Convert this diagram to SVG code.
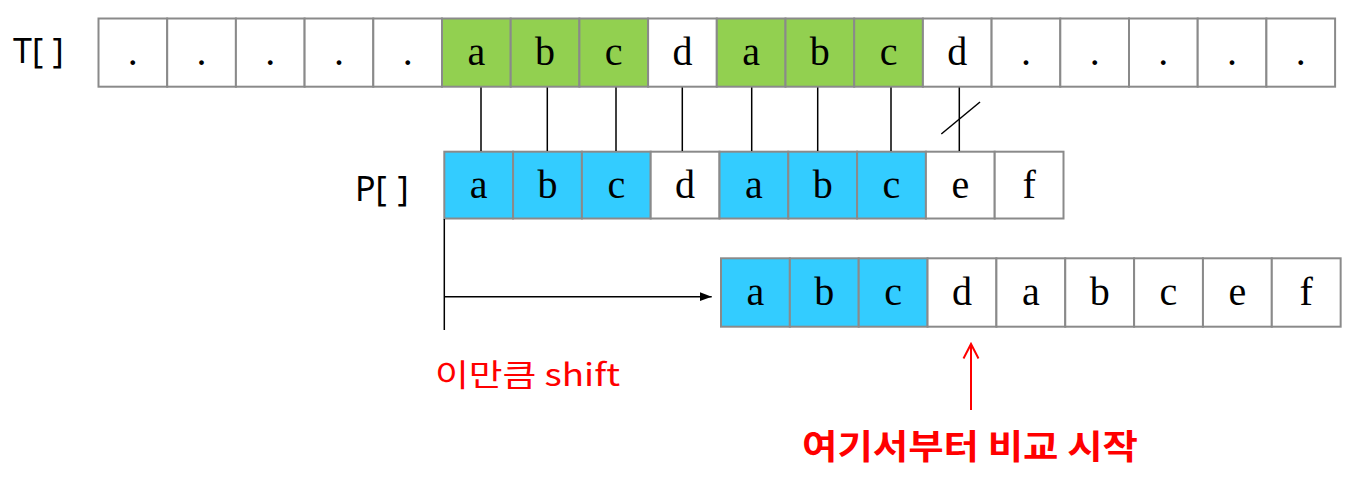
<svg xmlns="http://www.w3.org/2000/svg" width="1366" height="486" viewBox="0 0 1366 486">
<style>
.cell{stroke:#8a8a8a;stroke-width:2;fill:#fff}
.g{fill:#92D050}
.b{fill:#33CCFF}
.ch{font-family:"Liberation Serif","Times New Roman",serif;font-size:40px;fill:#000;text-anchor:middle}
.lbl{font-family:"Noto Sans","Open Sans",sans-serif;font-size:34px;fill:#000}
.con{stroke:#000;stroke-width:1.5;fill:none}
.red{font-family:"Noto Sans CJK KR","Noto Sans",sans-serif;fill:#ff0000}
</style>
<defs>
<marker id="ah" viewBox="0 0 12 10" refX="12" refY="5" markerWidth="12" markerHeight="10" markerUnits="userSpaceOnUse" orient="auto">
<path d="M0,0.5 L12,5 L0,9.5 Z" fill="#000"/>
</marker>
</defs>
<rect width="1366" height="486" fill="#fff"/>
<text id="labelT" class="lbl" x="13" y="63">T[<tspan x="52.5">]</tspan></text>
<text id="labelP" class="lbl" x="355" y="201">P[<tspan x="397.5">]</tspan></text>
<g id="T">
<g id="t0"><rect class="cell" x="98.5" y="18.5" width="68.7" height="68.2"/><text class="ch" x="132.85" y="65">.</text></g>
<g id="t1"><rect class="cell" x="167.2" y="18.5" width="68.7" height="68.2"/><text class="ch" x="201.55" y="65">.</text></g>
<g id="t2"><rect class="cell" x="235.9" y="18.5" width="68.7" height="68.2"/><text class="ch" x="270.25" y="65">.</text></g>
<g id="t3"><rect class="cell" x="304.6" y="18.5" width="68.7" height="68.2"/><text class="ch" x="338.95" y="65">.</text></g>
<g id="t4"><rect class="cell" x="373.3" y="18.5" width="68.7" height="68.2"/><text class="ch" x="407.65" y="65">.</text></g>
<g id="t5"><rect class="cell g" x="442" y="18.5" width="68.7" height="68.2"/><text class="ch" x="476.35" y="65">a</text></g>
<g id="t6"><rect class="cell g" x="510.7" y="18.5" width="68.7" height="68.2"/><text class="ch" x="545.05" y="65">b</text></g>
<g id="t7"><rect class="cell g" x="579.4" y="18.5" width="68.7" height="68.2"/><text class="ch" x="613.75" y="65">c</text></g>
<g id="t8"><rect class="cell" x="648.1" y="18.5" width="68.7" height="68.2"/><text class="ch" x="682.45" y="65">d</text></g>
<g id="t9"><rect class="cell g" x="716.8" y="18.5" width="68.7" height="68.2"/><text class="ch" x="751.15" y="65">a</text></g>
<g id="t10"><rect class="cell g" x="785.5" y="18.5" width="68.7" height="68.2"/><text class="ch" x="819.85" y="65">b</text></g>
<g id="t11"><rect class="cell g" x="854.2" y="18.5" width="68.7" height="68.2"/><text class="ch" x="888.55" y="65">c</text></g>
<g id="t12"><rect class="cell" x="922.9" y="18.5" width="68.7" height="68.2"/><text class="ch" x="957.25" y="65">d</text></g>
<g id="t13"><rect class="cell" x="991.6" y="18.5" width="68.7" height="68.2"/><text class="ch" x="1025.95" y="65">.</text></g>
<g id="t14"><rect class="cell" x="1060.3" y="18.5" width="68.7" height="68.2"/><text class="ch" x="1094.65" y="65">.</text></g>
<g id="t15"><rect class="cell" x="1129" y="18.5" width="68.7" height="68.2"/><text class="ch" x="1163.35" y="65">.</text></g>
<g id="t16"><rect class="cell" x="1197.7" y="18.5" width="68.7" height="68.2"/><text class="ch" x="1232.05" y="65">.</text></g>
<g id="t17"><rect class="cell" x="1266.4" y="18.5" width="68.7" height="68.2"/><text class="ch" x="1300.75" y="65">.</text></g>
</g>
<g id="P">
<g id="p0"><rect class="cell b" x="444.3" y="151.7" width="68.8" height="66.8"/><text class="ch" x="478.7" y="197.5">a</text></g>
<g id="p1"><rect class="cell b" x="513.1" y="151.7" width="68.8" height="66.8"/><text class="ch" x="547.5" y="197.5">b</text></g>
<g id="p2"><rect class="cell b" x="581.9" y="151.7" width="68.8" height="66.8"/><text class="ch" x="616.3" y="197.5">c</text></g>
<g id="p3"><rect class="cell" x="650.7" y="151.7" width="68.8" height="66.8"/><text class="ch" x="685.1" y="197.5">d</text></g>
<g id="p4"><rect class="cell b" x="719.5" y="151.7" width="68.8" height="66.8"/><text class="ch" x="753.9" y="197.5">a</text></g>
<g id="p5"><rect class="cell b" x="788.3" y="151.7" width="68.8" height="66.8"/><text class="ch" x="822.7" y="197.5">b</text></g>
<g id="p6"><rect class="cell b" x="857.1" y="151.7" width="68.8" height="66.8"/><text class="ch" x="891.5" y="197.5">c</text></g>
<g id="p7"><rect class="cell" x="925.9" y="151.7" width="68.8" height="66.8"/><text class="ch" x="960.3" y="197.5">e</text></g>
<g id="p8"><rect class="cell" x="994.7" y="151.7" width="68.8" height="66.8"/><text class="ch" x="1029.1" y="197.5">f</text></g>
</g>
<g id="S">
<g id="s0"><rect class="cell b" x="721" y="258.3" width="68.85" height="68.4"/><text class="ch" x="755.4" y="305">a</text></g>
<g id="s1"><rect class="cell b" x="789.85" y="258.3" width="68.85" height="68.4"/><text class="ch" x="824.3" y="305">b</text></g>
<g id="s2"><rect class="cell b" x="858.7" y="258.3" width="68.85" height="68.4"/><text class="ch" x="893.1" y="305">c</text></g>
<g id="s3"><rect class="cell" x="927.55" y="258.3" width="68.85" height="68.4"/><text class="ch" x="962" y="305">d</text></g>
<g id="s4"><rect class="cell" x="996.4" y="258.3" width="68.85" height="68.4"/><text class="ch" x="1030.8" y="305">a</text></g>
<g id="s5"><rect class="cell" x="1065.25" y="258.3" width="68.85" height="68.4"/><text class="ch" x="1099.7" y="305">b</text></g>
<g id="s6"><rect class="cell" x="1134.1" y="258.3" width="68.85" height="68.4"/><text class="ch" x="1168.5" y="305">c</text></g>
<g id="s7"><rect class="cell" x="1202.95" y="258.3" width="68.85" height="68.4"/><text class="ch" x="1237.4" y="305">e</text></g>
<g id="s8"><rect class="cell" x="1271.8" y="258.3" width="68.85" height="68.4"/><text class="ch" x="1306.2" y="305">f</text></g>
</g>
<g id="connectors">
<line class="con" x1="481" y1="87.5" x2="481" y2="151"/>
<line class="con" x1="547.3" y1="87.5" x2="547.3" y2="151"/>
<line class="con" x1="616" y1="87.5" x2="616" y2="151"/>
<line class="con" x1="682.3" y1="87.5" x2="682.3" y2="151"/>
<line class="con" x1="751.7" y1="87.5" x2="751.7" y2="151"/>
<line class="con" x1="817.7" y1="87.5" x2="817.7" y2="151"/>
<line class="con" x1="891" y1="87.5" x2="891" y2="151"/>
<line class="con" x1="959.3" y1="87.5" x2="959.3" y2="151"/>
<line class="con" x1="941.3" y1="134" x2="980" y2="102"/>
<line class="con" x1="444.3" y1="219" x2="444.3" y2="330"/>
<line class="con" x1="445" y1="296.7" x2="711.7" y2="296.7" marker-end="url(#ah)"/>
<path d="M971,410 L971,345 M963.5,358.5 L971,344 L978.5,358.5" fill="none" stroke="#ff0000" stroke-width="2"/>
</g>
<text id="shiftLabel" class="red" x="435" y="386" font-size="31" textLength="185" lengthAdjust="spacingAndGlyphs">이만큼 shift</text>
<text id="startLabel" class="red" x="802" y="459" font-size="34" font-weight="bold" textLength="336" lengthAdjust="spacingAndGlyphs">여기서부터 비교 시작</text>
</svg>
